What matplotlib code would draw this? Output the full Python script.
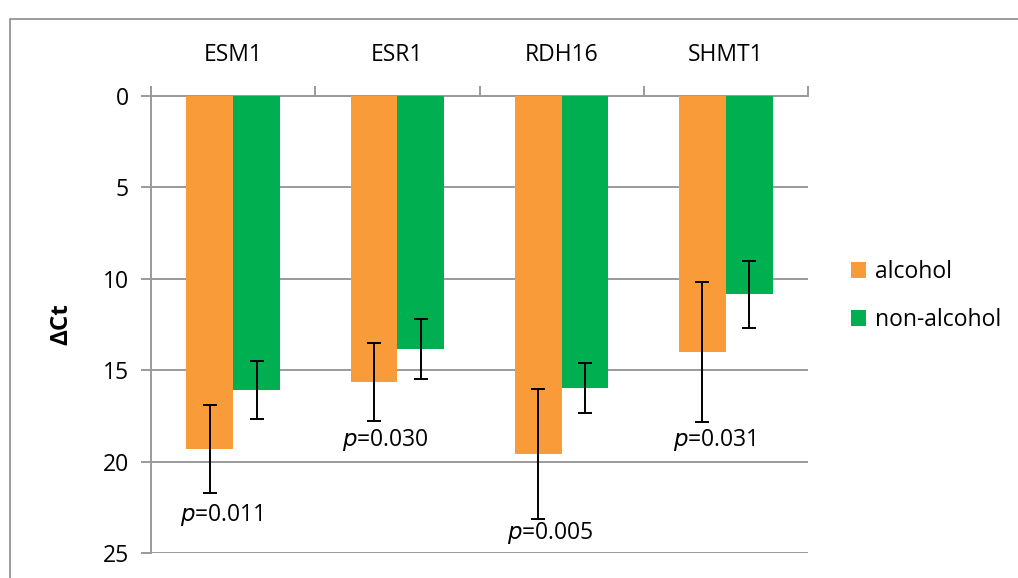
import matplotlib
matplotlib.use("Agg")
import matplotlib.pyplot as plt
from matplotlib.patches import Rectangle
import numpy as np

genes = ["ESM1", "ESR1", "RDH16", "SHMT1"]
alcohol = [19.3, 15.65, 19.6, 14.0]
alcohol_err = [2.4, 2.15, 3.55, 3.85]
non_alcohol = [16.1, 13.85, 15.95, 10.85]
non_alcohol_err = [1.58, 1.64, 1.37, 1.84]
p_labels = ["0.011", "0.030", "0.005", "0.031"]
p_y = [22.9, 18.8, 23.9, 18.8]

orange = "#F99B38"
green = "#00B050"
grid_col = "#9a9a9a"
fs = 16.5

plt.rcParams["font.family"] = ["Open Sans", "DejaVu Sans"]

fig = plt.figure(figsize=(10.18, 5.78), dpi=100)
ax = fig.add_axes([151 / 1018, 1 - 553 / 578, 657 / 1018, 457 / 578])

# outer chart frame
fig.patches.append(Rectangle((10 / 1018, -0.1), 1.2, 1 - 19 / 578 + 0.1,
                             transform=fig.transFigure, fill=False,
                             edgecolor="#8c8c8c", lw=1.2))

x = np.arange(len(genes))
w = 0.285
err_kw = dict(ecolor="black", capsize=5, elinewidth=1.4, capthick=1.4)
ax.bar(x - w / 2, alcohol, w, color=orange, label="alcohol",
       yerr=alcohol_err, error_kw=err_kw, zorder=3)
ax.bar(x + w / 2, non_alcohol, w, color=green, label="non-alcohol",
       yerr=non_alcohol_err, error_kw=err_kw, zorder=3)

for i, p in enumerate(p_labels):
    ax.text(i - 0.07, p_y[i], r"$\it{p}$=" + p, ha="center", va="center",
            fontsize=fs, zorder=4)

ax.set_xlim(-0.5, len(genes) - 0.5)
ax.set_ylim(25, 0)
ax.set_yticks([0, 5, 10, 15, 20, 25])
ax.yaxis.grid(True, color=grid_col, lw=1.4, zorder=0)
ax.set_axisbelow(True)

ax.xaxis.set_ticks_position("top")
ax.set_xticks(np.arange(len(genes) + 1) - 0.5)
ax.set_xticklabels([])
ax.set_xticks(x, minor=True)
ax.set_xticklabels(genes, minor=True, fontsize=fs)
ax.tick_params(axis="x", which="major", length=7, color=grid_col, width=1.4)
ax.tick_params(axis="x", which="minor", length=0, pad=21)
ax.tick_params(axis="y", length=7, color=grid_col, width=1.4, labelsize=fs, pad=9)

for s in ["right", "bottom"]:
    ax.spines[s].set_visible(False)
for s in ["left", "top"]:
    ax.spines[s].set_color(grid_col)
    ax.spines[s].set_linewidth(1.4)

ax.set_ylabel("ΔCt", fontsize=fs + 1, fontweight="bold")
ax.yaxis.set_label_coords(-0.118, 0.5)

ax.legend(loc="center left", bbox_to_anchor=(830 / 1018, 1 - 296 / 578),
          bbox_transform=fig.transFigure, frameon=False, fontsize=fs,
          handlelength=0.65, handleheight=0.65, handletextpad=0.4,
          labelspacing=1.05)

fig.savefig("out.png", dpi=100)
